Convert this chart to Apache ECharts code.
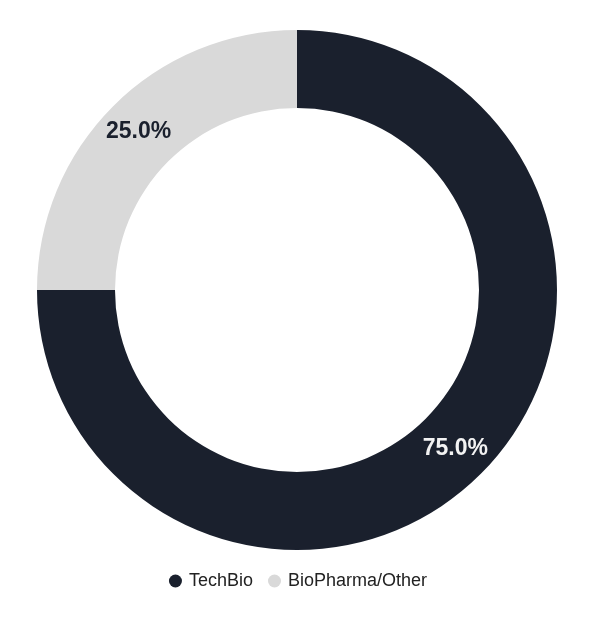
<!DOCTYPE html>
<html>
<head>
<meta charset="utf-8">
<script src="https://cdn.jsdelivr.net/npm/echarts@6/dist/echarts.min.js"></script>
<style>
  html, body { margin: 0; padding: 0; background: #fff; }
  #chart { width: 596px; height: 621px; }
</style>
</head>
<body>
<div id="chart"></div>
<script>
// 数据
const categories = ['TechBio', 'BioPharma/Other']
const values = [75.0, 25.0]
const colors = ['#1a202d', '#d9d9d9']
const labelColors = ['#f2f2f2', '#1a202d']

const chart = echarts.init(document.getElementById('chart'))

const option = {
  animation: false,
  legend: {
    data: categories,
    top: 567,
    left: 'center',
    icon: 'circle',
    itemWidth: 13,
    itemHeight: 13,
    itemGap: 15,
    textStyle: {
      fontFamily: 'Liberation Sans, Arial, sans-serif',
      fontSize: 18,
      color: '#222',
      padding: [0, 0, 0, 2]
    }
  },
  series: [{
    type: 'pie',
    center: [297, 290],
    radius: [182, 260],
    startAngle: 90,
    clockwise: true,
    avoidLabelOverlap: false,
    label: {
      show: true,
      position: 'inside',
      fontFamily: 'Liberation Sans, Arial, sans-serif',
      fontSize: 23,
      fontWeight: 'bold',
      formatter: p => p.value.toFixed(1) + '%'
    },
    labelLine: { show: false },
    itemStyle: { borderWidth: 0 },
    data: categories.map((name, i) => ({
      name,
      value: values[i],
      itemStyle: { color: colors[i] },
      label: { color: labelColors[i] }
    }))
  }]
}

chart.setOption(option)
</script>
</body>
</html>
